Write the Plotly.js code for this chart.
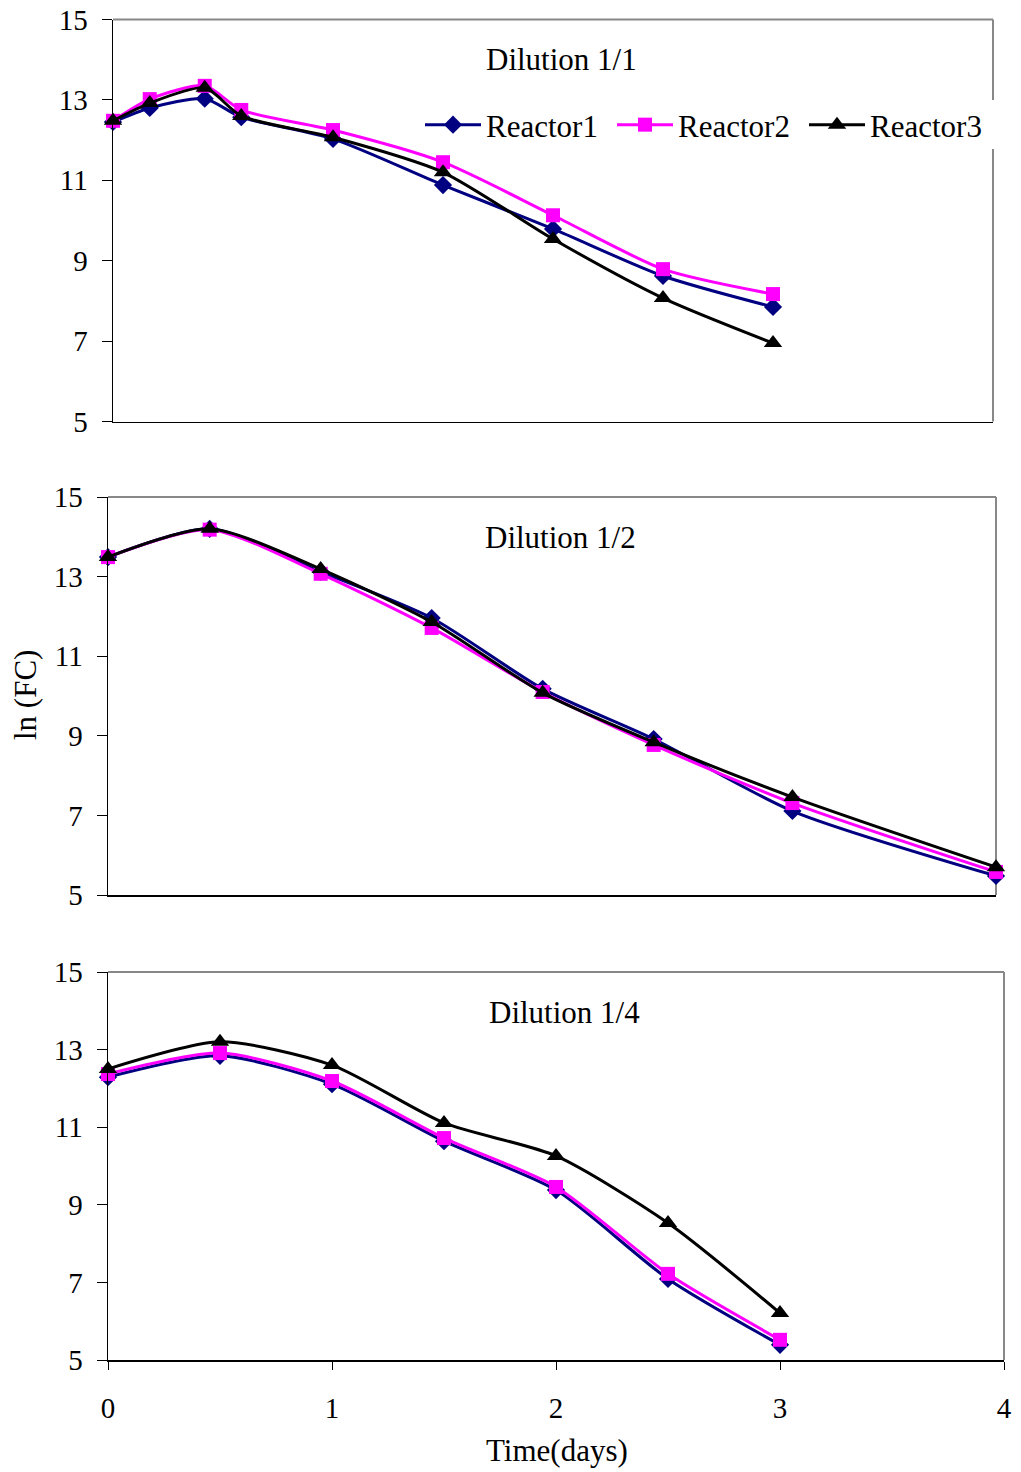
<!DOCTYPE html>
<html>
<head>
<meta charset="utf-8">
<script src="https://cdn.plot.ly/plotly-3.0.1.min.js"></script>
<style>html,body{margin:0;padding:0;background:#fff;}#chart{width:1021px;height:1472px;}</style>
</head>
<body>
<div id="chart"></div>
<script>
// ---- Data (time in days, ln(FC)) ----
const seriesNames = ["Reactor1", "Reactor2", "Reactor3"];
const panelTitles = ["Dilution 1/1", "Dilution 1/2", "Dilution 1/4"];

const t1 = [0, 0.167, 0.417, 0.583, 1.0, 1.5, 2.0, 2.5, 3.0];
const d1_r1 = [12.45, 12.80, 13.03, 12.57, 12.03, 10.88, 9.79, 8.62, 7.85];
const d1_r2 = [12.48, 13.02, 13.35, 12.75, 12.25, 11.45, 10.13, 8.79, 8.17];
const d1_r3 = [12.48, 12.92, 13.30, 12.60, 12.07, 11.20, 9.54, 8.07, 6.95];

const t2 = [0, 0.458, 0.958, 1.458, 1.958, 2.458, 3.083, 4.0];
const d2_r1 = [13.49, 14.20, 13.12, 11.96, 10.18, 8.92, 7.11, 5.48];
const d2_r2 = [13.49, 14.18, 13.07, 11.71, 10.10, 8.77, 7.31, 5.58];
const d2_r3 = [13.49, 14.20, 13.19, 11.86, 10.08, 8.84, 7.46, 5.70];

const t3 = [0, 0.5, 1.0, 1.5, 2.0, 2.5, 3.0];
const d3_r1 = [12.29, 12.84, 12.11, 10.64, 9.38, 7.09, 5.39];
const d3_r2 = [12.37, 12.91, 12.19, 10.72, 9.46, 7.22, 5.52];
const d3_r3 = [12.50, 13.20, 12.60, 11.11, 10.26, 8.53, 6.21];

const yTicks = [5, 7, 9, 11, 13, 15];
const xTicks = [0, 1, 2, 3, 4];

// ---- Styles ----
const colors = ["#000080", "#FF00FF", "#000000"];
const symbols = ["diamond", "square", "triangle-up"];
const msize = [14, 14, 16];
const FONT = "Liberation Serif, Times New Roman, serif";

const panels = [
  {t: t1, ys: [d1_r1, d1_r2, d1_r3]},
  {t: t2, ys: [d2_r1, d2_r2, d2_r3]},
  {t: t3, ys: [d3_r1, d3_r2, d3_r3]}
];

const traces = [];
panels.forEach((p, pi) => {
  const ax = pi === 0 ? "" : String(pi + 1);
  p.ys.forEach((y, si) => {
    traces.push({
      x: p.t, y: y, name: seriesNames[si],
      xaxis: "x" + ax, yaxis: "y" + ax,
      mode: "lines+markers", type: "scatter",
      showlegend: pi === 0,
      line: {color: colors[si], width: 3, shape: "spline", smoothing: 0.7},
      marker: {symbol: symbols[si], size: msize[si], color: colors[si]},
      cliponaxis: false
    });
  });
});

const W = 1021, H = 1472;
const boxes = [
  {l: 113, r: 993, t: 19.5, b: 421.5},
  {l: 108, r: 996, t: 497, b: 895},
  {l: 108, r: 1004, t: 972, b: 1360}
];

const layout = {
  width: W, height: H,
  margin: {l: 0, r: 0, t: 0, b: 0},
  paper_bgcolor: "#fff", plot_bgcolor: "#fff",
  font: {family: FONT, size: 29, color: "#000"},
  showlegend: true,
  legend: {
    orientation: "h", x: 420 / W, y: 1 - 98 / H, xanchor: "left", yanchor: "top",
    bgcolor: "rgba(0,0,0,0)", font: {family: FONT, size: 31, color: "#000"},
    itemwidth: 56, entrywidth: 121, entrywidthmode: "pixels", tracegroupgap: 0
  },
  annotations: [],
  shapes: []
};

boxes.forEach((b, i) => {
  const ax = i === 0 ? "" : String(i + 1);
  const isLast = i === 2;
  layout["xaxis" + ax] = {
    domain: [b.l / W, b.r / W],
    anchor: "y" + ax,
    range: [0, 4],
    showgrid: false, zeroline: false,
    showline: true, linecolor: "#000", linewidth: 1.5,
    ticks: isLast ? "outside" : "", ticklen: 8, tickcolor: "#000", tickwidth: 1,
    tickvals: xTicks, showticklabels: isLast,
    ticklabelstandoff: 14,
    tickfont: {family: FONT, size: 29, color: "#000"},
    fixedrange: true
  };
  layout["yaxis" + ax] = {
    domain: [1 - b.b / H, 1 - b.t / H],
    anchor: "x" + ax,
    range: [5, 15],
    showgrid: false, zeroline: false,
    showline: true, linecolor: "#000", linewidth: 1.5,
    ticks: "outside", ticklen: 10, tickcolor: "#000", tickwidth: 1,
    tickvals: yTicks,
    ticklabelstandoff: 8,
    tickfont: {family: FONT, size: 29, color: "#000"},
    fixedrange: true
  };
  // gray top and right borders of the plot box
  layout.shapes.push({type: "line", xref: "x" + ax + " domain", yref: "y" + ax + " domain",
    x0: 0, x1: 1, y0: 1, y1: 1, line: {color: "#888", width: 2}, layer: "below"});
  layout.shapes.push({type: "line", xref: "x" + ax + " domain", yref: "y" + ax + " domain",
    x0: 1, x1: 1, y0: 0, y1: 1, line: {color: "#888", width: 2}, layer: "below"});
  // panel title
  layout.annotations.push({
    text: panelTitles[i], xref: "x" + ax + " domain", yref: "y" + ax + " domain",
    x: 0.51, y: 1 - 40 / (b.b - b.t), xanchor: "center", yanchor: "middle",
    showarrow: false, font: {family: FONT, size: 31, color: "#000"}
  });
});

// white gap in the first panel's right border behind the legend
layout.shapes.push({type: "rect", xref: "paper", yref: "paper",
  x0: 985 / W, x1: 1000 / W, y0: 1 - 149 / H, y1: 1 - 100 / H,
  line: {width: 0}, fillcolor: "#fff", layer: "below"});

layout.annotations.push({
  text: "ln (FC)", xref: "paper", yref: "paper", x: 25 / W, y: 1 - 695 / H,
  textangle: -90, showarrow: false, xanchor: "center", yanchor: "middle",
  font: {family: FONT, size: 31, color: "#000"}
});
layout.annotations.push({
  text: "Time(days)", xref: "paper", yref: "paper", x: 557 / W, y: 1 - 1450 / H,
  showarrow: false, xanchor: "center", yanchor: "middle",
  font: {family: FONT, size: 31, color: "#000"}
});

Plotly.newPlot("chart", traces, layout, {displayModeBar: false, staticPlot: true});
</script>
</body>
</html>
